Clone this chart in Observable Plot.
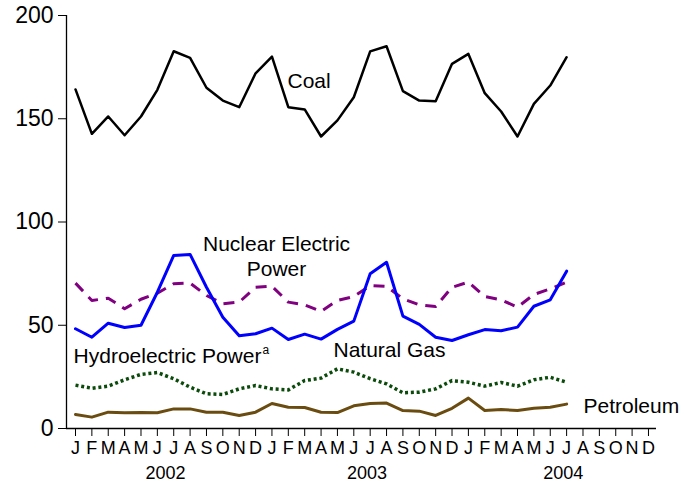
<!DOCTYPE html>
<html><head><meta charset="utf-8">
<script src="https://cdn.jsdelivr.net/npm/d3@7"></script>
<script src="https://cdn.jsdelivr.net/npm/@observablehq/plot@0.6"></script>
<style>body{margin:0;background:#fff}</style>
</head><body><div id="chart"></div>
<script>
const monthLetters = ["J","F","M","A","M","J","J","A","S","O","N","D"];
const years = ["2002","2003","2004"];
const yearLabelPos = [5.5, 17.8, 29.8];
const yTicks = [0, 50, 100, 150, 200];

// Jan 2002 .. Jul 2004 (31 months)
const coal = [164.2,142.7,151.1,142.0,151.1,164.0,182.7,179.5,165.0,158.8,155.6,172.0,
              180.1,155.6,154.5,141.4,149.2,160.4,182.6,185.1,163.4,158.8,158.5,176.6,
              181.4,162.4,153.5,141.4,157.2,166.1,179.8];
const naturalGas = [48.3,44.2,51.0,48.9,50.0,66.0,83.8,84.3,68.4,53.9,44.9,45.9,
              48.6,43.1,45.7,43.3,48.0,52.0,74.9,80.5,54.4,50.4,44.2,42.6,
              45.4,47.9,47.3,49.1,59.2,62.3,76.2];
const nuclear = [70.4,62.0,63.1,58.0,62.6,65.5,70.1,70.4,64.4,60.4,61.2,68.4,
              68.9,61.2,59.9,56.7,62.0,63.9,69.2,68.8,62.8,59.9,59.1,68.4,
              70.9,63.9,62.3,58.8,64.9,67.6,70.9];
const hydro = [21.0,19.5,20.5,23.6,26.2,27.1,24.1,20.0,16.8,16.5,19.2,20.8,
              19.2,18.7,23.2,24.4,28.9,27.3,24.1,21.6,17.3,17.6,19.2,23.2,
              22.4,20.5,22.3,20.5,23.6,24.8,22.4];
const petroleum = [6.8,5.5,7.9,7.6,7.7,7.6,9.5,9.5,7.9,7.9,6.3,7.9,
              12.1,10.3,10.2,7.9,7.7,11.0,12.1,12.3,8.7,8.4,6.3,9.8,
              14.7,8.7,9.2,8.7,9.8,10.3,11.8];

// annotation anchors: [text, month index, value]
const leftLabels = [
  ["Coal", 12.95, 168],
  ["Hydroelectric Power", -0.12, 34.9],
  ["Natural Gas", 15.76, 37.8],
  ["Petroleum", 31.03, 10.65]
];
const centerLabels = [
  ["Nuclear Electric\nPower", 12.28, 84]
];
const superscript = [["a", -0.12, 34.9]];

const toRows = vals => vals.map((v, i) => ({i, v}));
const monthIdx = d3.range(36);
const font = "'Liberation Sans', Arial, sans-serif";

const chart = Plot.plot({
  width: 695, height: 491,
  marginLeft: 66, marginRight: 39, marginTop: 15, marginBottom: 63,
  style: {fontFamily: font, background: "#fff", color: "#000"},
  x: {domain: [-0.55, 35.49]},
  y: {domain: [0, 200]},
  marks: [
    Plot.axisY({ticks: yTicks, tickSize: 8, tickPadding: 5, fontSize: 23, label: null, stroke: "#000"}),
    Plot.axisX({ticks: monthIdx, tickFormat: i => monthLetters[i % 12], tickSize: 8, tickPadding: 5, fontSize: 18, label: null, stroke: "#000"}),
    Plot.ruleX([-0.55], {y1: 0, y2: 200, stroke: "#000", strokeWidth: 1.3}),
    Plot.ruleY([0], {stroke: "#000", strokeWidth: 1.3}),
    Plot.text(years, {x: (d, i) => yearLabelPos[i], frameAnchor: "bottom", dy: 50, fontSize: 18, fill: "#000"}),
    Plot.line(toRows(petroleum), {x: "i", y: "v", stroke: "#6b4c10", strokeWidth: 3}),
    Plot.line(toRows(hydro), {x: "i", y: "v", stroke: "#0a4a0a", strokeWidth: 3.5, strokeDasharray: "3,2.8", strokeLinecap: "butt"}),
    Plot.line(toRows(nuclear), {x: "i", y: "v", stroke: "#800080", strokeWidth: 3, strokeDasharray: "11,8", strokeLinecap: "butt"}),
    Plot.line(toRows(naturalGas), {x: "i", y: "v", stroke: "#0000ff", strokeWidth: 3}),
    Plot.line(toRows(coal), {x: "i", y: "v", stroke: "#000", strokeWidth: 2.5}),
    Plot.text(leftLabels, {x: d => d[1], y: d => d[2], text: d => d[0], textAnchor: "start", fontSize: 21, fill: "#000"}),
    Plot.text(centerLabels, {x: d => d[1], y: d => d[2], text: d => d[0], textAnchor: "middle", fontSize: 21, lineHeight: 1.2, fill: "#000"}),
    Plot.text(superscript, {x: d => d[1], y: d => d[2], text: d => d[0], textAnchor: "start", dx: 189, dy: -6, fontSize: 12, fill: "#000"})
  ]
});
document.getElementById("chart").append(chart);
</script>
</body></html>
